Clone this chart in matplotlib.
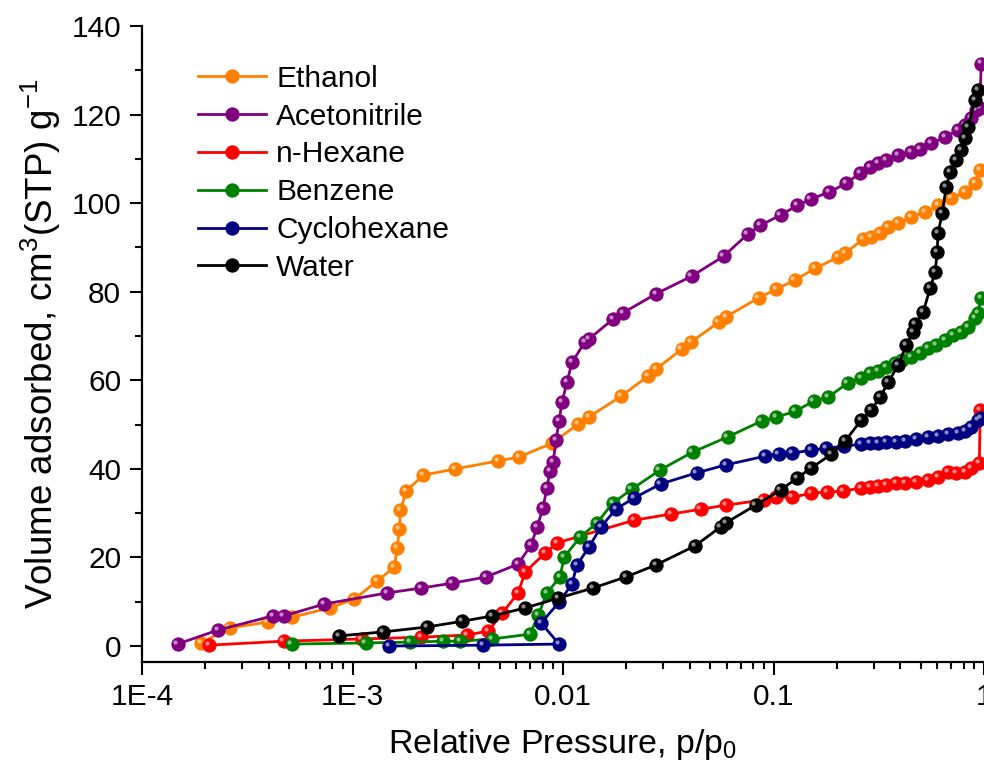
import matplotlib
matplotlib.use("Agg")
import matplotlib.pyplot as plt
from matplotlib import font_manager
from matplotlib.transforms import ScaledTranslation
from matplotlib.ticker import LogLocator, NullFormatter, MultipleLocator

# ---------------- data ----------------
ethanol_p = [1.905e-4, 2.61e-4, 3.95e-4, 5.14e-4, 7.78e-4, 1.02e-3, 1.31e-3, 1.58e-3, 1.63e-3,
             1.67e-3, 1.69e-3, 1.80e-3, 2.17e-3, 3.08e-3, 4.92e-3, 6.18e-3, 8.87e-3, 0.01178,
             0.01327, 0.01884, 0.0253, 0.0276, 0.0366, 0.0405, 0.0548, 0.0593, 0.0849, 0.1033,
             0.126, 0.158, 0.203, 0.219, 0.267, 0.291, 0.321, 0.351, 0.391, 0.451, 0.525, 0.605,
             0.698, 0.813, 0.906, 0.957]
ethanol_v = [0.7, 4.1, 5.4, 6.5, 8.6, 10.6, 14.7, 17.8, 22.1, 26.4, 30.7, 35.0, 38.6, 40.0, 41.8,
             42.7, 45.8, 50.1, 51.7, 56.4, 60.9, 62.5, 67.0, 68.6, 73.1, 74.3, 78.6, 80.6, 82.6,
             85.3, 87.8, 88.7, 91.9, 92.3, 93.2, 94.6, 95.5, 96.8, 98.0, 99.5, 101.1, 102.5,
             104.5, 107.4]

acetonitrile_p = [1.475e-4, 2.29e-4, 4.18e-4, 4.71e-4, 7.36e-4, 1.466e-3, 2.12e-3, 2.98e-3,
                  4.31e-3, 6.12e-3, 7.05e-3, 7.54e-3, 8.03e-3, 8.39e-3, 8.67e-3, 8.97e-3,
                  9.27e-3, 9.58e-3, 9.89e-3, 0.01045, 0.01104, 0.0127, 0.01327, 0.01726,
                  0.01923, 0.0276, 0.0408, 0.0579, 0.0754, 0.0867, 0.108, 0.130, 0.150, 0.184,
                  0.222, 0.258, 0.288, 0.315, 0.344, 0.391, 0.451, 0.498, 0.561, 0.653, 0.753,
                  0.813, 0.867, 0.916, 0.955, 0.97]
acetonitrile_v = [0.45, 3.6, 6.8, 6.8, 9.5, 12.0, 13.1, 14.2, 15.6, 18.5, 22.8, 26.9, 31.2, 35.7,
                  39.5, 41.5, 46.5, 50.8, 55.1, 59.6, 64.1, 68.6, 69.3, 73.8, 75.2, 79.5, 83.5,
                  88.0, 93.0, 95.0, 97.3, 99.5, 100.9, 102.5, 104.5, 106.8, 108.1, 109.0, 109.7,
                  110.8, 111.5, 112.2, 113.5, 114.9, 116.5, 117.6, 119.2, 121.0, 121.4, 131.5]

hexane_p = [2.08e-4, 4.71e-4, 1.105e-3, 2.12e-3, 3.51e-3, 4.42e-3, 5.14e-3, 6.12e-3, 6.61e-3,
            8.22e-3, 9.38e-3, 0.0217, 0.0325, 0.0451, 0.0593, 0.0897, 0.1033, 0.123, 0.151,
            0.180, 0.215, 0.261, 0.288, 0.315, 0.344, 0.383, 0.423, 0.477, 0.543, 0.605, 0.674,
            0.736, 0.813, 0.867, 0.95, 0.96]
hexane_v = [0.2, 1.1, 1.6, 2.0, 2.5, 3.4, 7.4, 12.0, 16.7, 21.0, 23.3, 28.4, 29.8, 30.9, 31.8,
            33.0, 33.6, 33.6, 34.5, 34.8, 35.0, 35.7, 35.9, 36.1, 36.3, 36.8, 36.8, 37.0, 37.5,
            38.1, 39.3, 39.1, 39.3, 40.2, 41.3, 53.3]

benzene_p = [5.14e-4, 1.154e-3, 1.884e-3, 2.70e-3, 3.25e-3, 4.62e-3, 6.98e-3, 7.63e-3, 8.39e-3,
             9.68e-3, 0.01012, 0.01206, 0.01449, 0.01726, 0.0212, 0.0288, 0.0413, 0.0605,
             0.0877, 0.1033, 0.127, 0.155, 0.182, 0.225, 0.261, 0.288, 0.315, 0.344, 0.378,
             0.408, 0.451, 0.498, 0.543, 0.593, 0.653, 0.713, 0.778, 0.839, 0.906, 0.938, 0.968]
benzene_v = [0.45, 0.7, 0.9, 1.1, 1.1, 1.6, 2.7, 7.0, 12.0, 15.6, 20.1, 24.6, 27.8, 32.3, 35.4,
             39.7, 43.8, 47.2, 50.8, 51.7, 53.0, 55.3, 56.2, 59.4, 60.5, 61.6, 62.1, 63.0, 63.9,
             64.6, 65.2, 66.1, 67.3, 67.9, 69.1, 70.2, 70.9, 72.0, 74.0, 75.2, 78.6]

cyclohexane_p = [1.496e-3, 4.18e-3, 9.58e-3, 7.87e-3, 9.58e-3, 0.01104, 0.01164, 0.01327,
                 0.01514, 0.01782, 0.0217, 0.0291, 0.0431, 0.0593, 0.0916, 0.1057, 0.123,
                 0.151, 0.178, 0.217, 0.261, 0.288, 0.315, 0.344, 0.383, 0.423, 0.477, 0.543,
                 0.605, 0.674, 0.753, 0.813, 0.867, 0.938, 0.968]
cyclohexane_v = [0.0, 0.2, 0.45, 5.2, 9.9, 14.0, 18.3, 22.3, 26.9, 30.9, 33.4, 36.6, 39.1, 40.9,
                 42.9, 43.3, 43.6, 44.2, 44.7, 45.1, 45.6, 45.8, 45.8, 46.0, 46.0, 46.3, 46.7,
                 47.2, 47.4, 47.9, 48.1, 48.5, 49.4, 51.0, 51.5]

water_p = [8.67e-4, 1.403e-3, 2.26e-3, 3.32e-3, 4.62e-3, 6.61e-3, 9.46e-3, 0.01387, 0.0199,
           0.0276, 0.0423, 0.0561, 0.0593, 0.0822, 0.108, 0.129, 0.151, 0.188, 0.219, 0.261,
           0.291, 0.321, 0.351, 0.391, 0.427, 0.461, 0.471, 0.514, 0.555, 0.586, 0.599, 0.605,
           0.633, 0.661, 0.690, 0.736, 0.778, 0.813, 0.839, 0.906, 0.938]
water_v = [2.3, 3.2, 4.3, 5.6, 6.8, 8.6, 10.8, 13.1, 15.6, 18.3, 22.6, 26.9, 27.8, 31.8, 35.2,
           37.9, 40.2, 43.3, 46.3, 51.0, 53.3, 56.2, 59.6, 63.4, 67.9, 70.9, 72.7, 75.4, 80.8,
           84.4, 88.9, 93.2, 97.7, 103.6, 107.0, 109.7, 112.0, 114.7, 117.2, 123.3, 125.5]

series_names = ["Ethanol", "Acetonitrile", "n-Hexane", "Benzene", "Cyclohexane", "Water"]
series_colors = ["#FF8000", "#800080", "#FF0000", "#008000", "#000080", "#000000"]
series_data = [(ethanol_p, ethanol_v), (acetonitrile_p, acetonitrile_v), (hexane_p, hexane_v),
               (benzene_p, benzene_v), (cyclohexane_p, cyclohexane_v), (water_p, water_v)]

x_tick_values = [1e-4, 1e-3, 1e-2, 1e-1, 1]
x_tick_labels = ["1E-4", "1E-3", "0.01", "0.1", "1"]
y_tick_values = [0, 20, 40, 60, 80, 100, 120, 140]

# ---------------- font ----------------
available = {f.name for f in font_manager.fontManager.ttflist}
family = ["Liberation Sans Narrow"] if "Liberation Sans Narrow" in available else ["Liberation Sans"]
plt.rcParams["font.family"] = family + ["DejaVu Sans"]
plt.rcParams["mathtext.fontset"] = "custom"
plt.rcParams["mathtext.rm"] = family[0]
plt.rcParams["mathtext.it"] = family[0]

fig = plt.figure(figsize=(9.84, 7.65), dpi=100)
ax = fig.add_axes([142 / 984, 103 / 765, 842 / 984, 636 / 765])

hl = ax.transData + ScaledTranslation(-1.6 / 72, 1.6 / 72, fig.dpi_scale_trans)
for name, color, (p, v) in zip(series_names, series_colors, series_data):
    ax.plot(p, v, "-o", color=color, lw=2.0, ms=9.5, mec=color, mew=0.8, label=name,
            clip_on=False)
    ax.plot(p, v, "o", color="white", ms=3, alpha=0.55, mew=0, transform=hl, clip_on=False)

ax.set_xscale("log")
ax.set_xlim(1e-4, 1)
ax.set_ylim(-3.6, 140)
ax.set_xticks(x_tick_values)
ax.set_xticklabels(x_tick_labels)
ax.xaxis.set_minor_locator(LogLocator(base=10, subs=range(2, 10), numticks=20))
ax.xaxis.set_minor_formatter(NullFormatter())
ax.set_yticks(y_tick_values)
ax.yaxis.set_minor_locator(MultipleLocator(10))

for s in ["top", "right"]:
    ax.spines[s].set_visible(False)
for s in ["left", "bottom"]:
    ax.spines[s].set_linewidth(1.6)
ax.spines["left"].set_bounds(-3.6, 140)

ax.tick_params(which="major", direction="out", length=9, width=1.5, labelsize=21.5, pad=6)
ax.tick_params(which="minor", direction="out", length=5, width=1.5)

ax.set_xlabel("Relative Pressure, p/p$_0$", fontsize=24.5, labelpad=12)
ax.set_ylabel("Volume adsorbed, cm$^3$(STP) g$^{-1}$", fontsize=26.5, labelpad=6)

leg = ax.legend(loc="upper left", bbox_to_anchor=(0.052, 0.958), frameon=False, fontsize=21.5,
                handlelength=2.3, handletextpad=0.33, labelspacing=0.33, borderaxespad=0)

fig.savefig("out.png", dpi=100)
